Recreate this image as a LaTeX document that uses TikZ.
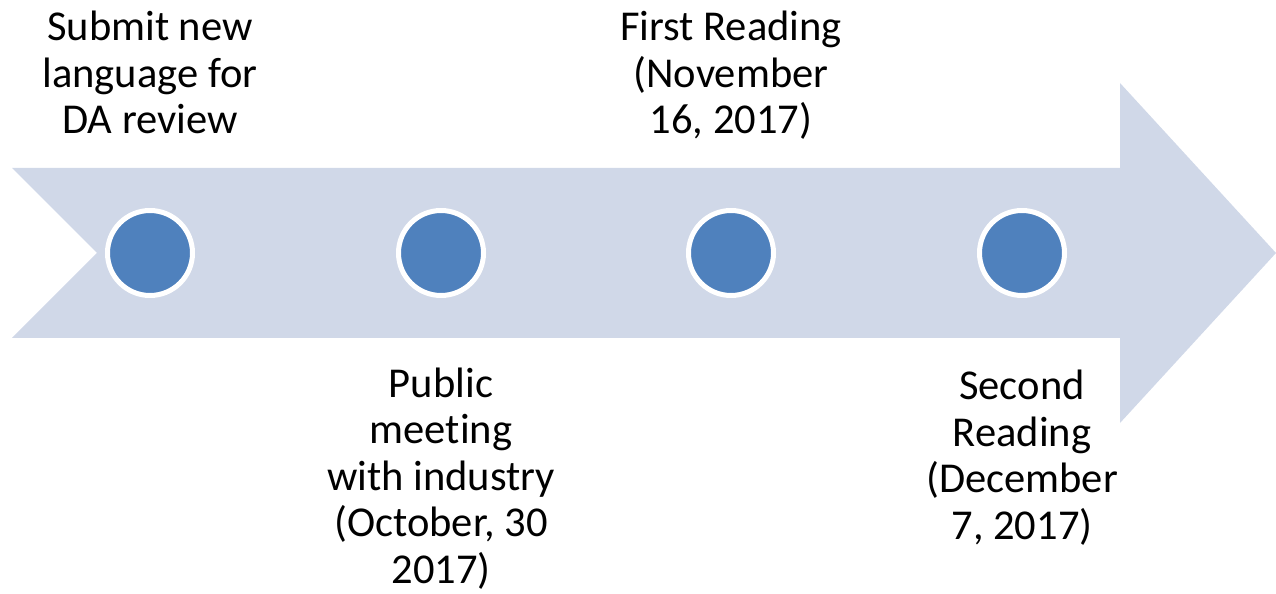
\documentclass[tikz,border=0pt]{standalone}
\usepackage{fontspec}
\setmainfont{Carlito}[Ligatures=NoCommon]
\definecolor{arrowfill}{HTML}{D0D8E8}
\definecolor{dotfill}{HTML}{4F81BD}
\begin{document}
\begin{tikzpicture}[
    % Timeline dots
    dot/.style={
        circle,
        draw=white,
        line width=2.85pt,
        fill=dotfill,
        minimum size=1.7cm,
        inner sep=0pt
    },
    % Text above / below the arrow (base = last line)
    label/.style={
        align=center,
        inner sep=0pt,
        anchor=base,
        font=\fontsize{24.2}{26.5}\selectfont
    }
    ]
    \useasboundingbox (0,0) rectangle (25.52,11.86);

    % Big notched arrow
    \fill[arrowfill] (0.24,8.5) -- (22.4,8.5) -- (22.4,10.2) -- (25.52,6.8)
        -- (22.4,3.4) -- (22.4,5.1) -- (0.24,5.1) -- (1.94,6.8) -- cycle;

    % Dots on the arrow
    \node[dot] (d1) at (3.0,6.8) {};
    \node[dot] (d2) at (8.82,6.8) {};
    \node[dot] (d3) at (14.62,6.8) {};
    \node[dot] (d4) at (20.44,6.8) {};

    % Labels, alternating above and below
    \node[label] (t1) at (3.0,9.18) {Submit new\\language for\\DA review};
    \node[label] (t2) at (8.82,0.19) {Public\\meeting\\with industry\\(October, 30\\2017)};
    \node[label] (t3) at (14.62,9.18) {First Reading\\(November\\16, 2017)};
    \node[label] (t4) at (20.44,1.07) {Second\\Reading\\(December\\7, 2017)};

\end{tikzpicture}
\end{document}
